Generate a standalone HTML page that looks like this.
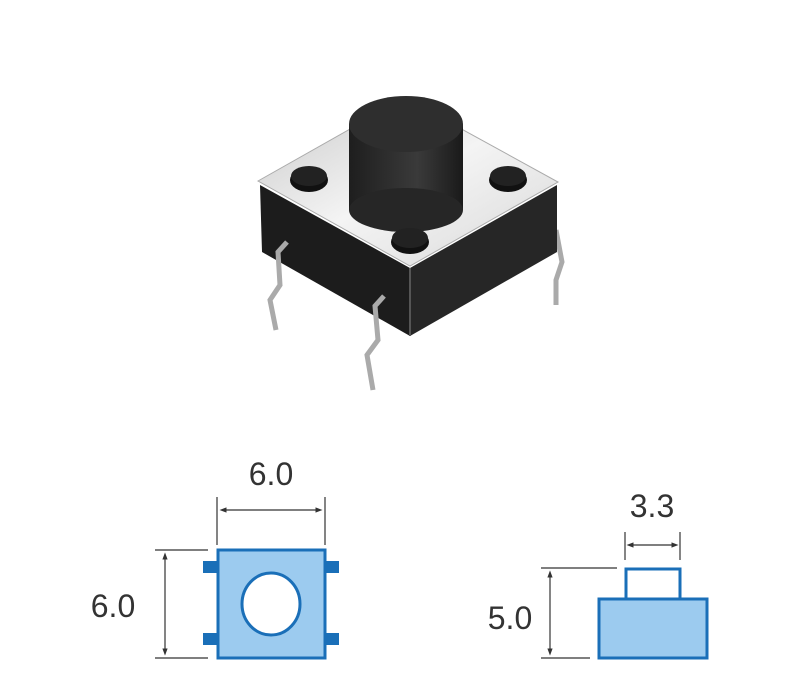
<!DOCTYPE html>
<html><head><meta charset="utf-8"><style>
html,body{margin:0;padding:0;background:#fff;width:800px;height:680px;overflow:hidden}
svg{display:block}
text{font-family:"Liberation Sans",sans-serif;fill:#333}
</style></head><body>
<svg width="800" height="680" viewBox="0 0 800 680">
<defs>
<linearGradient id="top" x1="0" y1="0" x2="1" y2="1"><stop offset="0" stop-color="#c8c8c8"/><stop offset="0.5" stop-color="#f4f4f4"/><stop offset="1" stop-color="#d8d8d8"/></linearGradient>
<linearGradient id="cyl" x1="0" x2="1"><stop offset="0" stop-color="#1e1e1e"/><stop offset="0.6" stop-color="#3a3a3a"/><stop offset="1" stop-color="#1a1a1a"/></linearGradient>
<marker id="a" markerWidth="6" markerHeight="6" refX="3" refY="3" orient="auto-start-reverse"><path d="M0,0.8 L6,3 L0,5.2z" fill="#333"/></marker>
</defs>
<polyline points="556,230 562,262 556,280 556,305" fill="none" stroke="#aaa" stroke-width="5"/>
<polygon points="260,185 410,268 410,336 262,252" fill="#1c1c1c"/>
<polygon points="410,268 557,185 557,252 410,336" fill="#262626"/>
<line x1="410" y1="268" x2="410" y2="336" stroke="#555" stroke-width="2"/>
<polygon points="258,181 405,98 558,182 410,266" fill="url(#top)" stroke="#aaa" stroke-width="1"/>
<rect x="349" y="124" width="114" height="86" fill="url(#cyl)"/>
<ellipse cx="406" cy="210" rx="57" ry="22" fill="#262626"/>
<ellipse cx="406" cy="124" rx="57" ry="28" fill="#2e2e2e"/>
<ellipse cx="309" cy="180" rx="19" ry="12" fill="#111"/><ellipse cx="309" cy="176" rx="18" ry="10" fill="#222"/>
<ellipse cx="508" cy="180" rx="19" ry="12" fill="#111"/><ellipse cx="508" cy="176" rx="18" ry="10" fill="#222"/>
<ellipse cx="410" cy="242" rx="19" ry="12" fill="#111"/><ellipse cx="410" cy="238" rx="18" ry="10" fill="#222"/>
<polyline points="287,242 278,252 280,285 270,300 276,330" fill="none" stroke="#aaa" stroke-width="5"/>
<polyline points="384,296 375,306 378,340 367,355 373,390" fill="none" stroke="#aaa" stroke-width="5"/>

<g stroke="#333" stroke-width="1.2" fill="none">
<line x1="217" y1="497" x2="217" y2="545"/><line x1="325" y1="497" x2="325" y2="545"/>
<line x1="223" y1="510" x2="319" y2="510" marker-start="url(#a)" marker-end="url(#a)"/>
<line x1="155" y1="550" x2="208" y2="550"/><line x1="155" y1="658" x2="208" y2="658"/>
<line x1="165" y1="556" x2="165" y2="652" marker-start="url(#a)" marker-end="url(#a)"/>
</g>
<g fill="#1a6fb8">
<rect x="203" y="561" width="15" height="12"/><rect x="203" y="633" width="15" height="12"/>
<rect x="324" y="561" width="15" height="12"/><rect x="324" y="633" width="15" height="12"/>
</g>
<rect x="218" y="550" width="107" height="108" fill="#9ccbef" stroke="#1a6fb8" stroke-width="3"/>
<ellipse cx="271" cy="604" rx="29" ry="31" fill="#fff" stroke="#1a6fb8" stroke-width="3"/>
<text x="271" y="485" font-size="32" text-anchor="middle">6.0</text>
<text x="113" y="617" font-size="32" text-anchor="middle">6.0</text>

<g stroke="#333" stroke-width="1.2" fill="none">
<line x1="625" y1="532" x2="625" y2="560"/><line x1="680" y1="532" x2="680" y2="560"/>
<line x1="630" y1="545" x2="675" y2="545" marker-start="url(#a)" marker-end="url(#a)"/>
<line x1="541" y1="568" x2="617" y2="568"/><line x1="541" y1="658" x2="590" y2="658"/>
<line x1="550" y1="574" x2="550" y2="652" marker-start="url(#a)" marker-end="url(#a)"/>
</g>
<rect x="626" y="569" width="54" height="30" fill="#fff" stroke="#1a6fb8" stroke-width="3"/>
<rect x="599" y="599" width="108" height="59" fill="#9ccbef" stroke="#1a6fb8" stroke-width="3"/>
<text x="652" y="517" font-size="32" text-anchor="middle">3.3</text>
<text x="510" y="629" font-size="32" text-anchor="middle">5.0</text>
</svg>
</body></html>
